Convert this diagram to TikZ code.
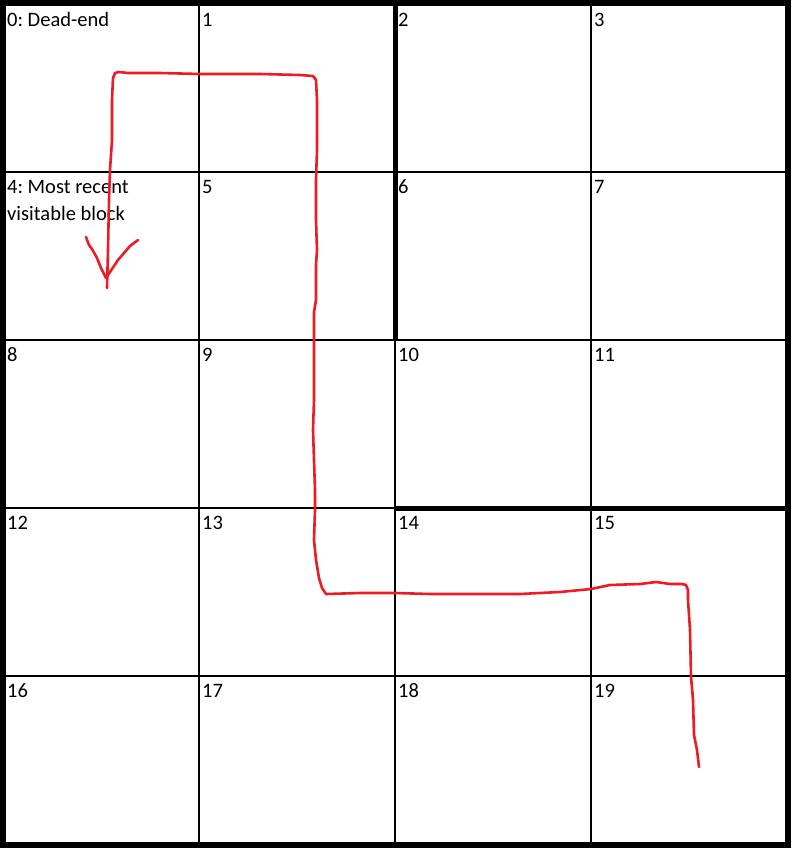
\documentclass[tikz,border=0pt]{standalone}
\usepackage{fontspec}
\setmainfont{Carlito}
\frenchspacing
\begin{document}
\begin{tikzpicture}[x=1pt,y=-1pt,
  thinline/.style={line width=1.2pt,black},
  thickline/.style={line width=5pt,black},
  border/.style={line width=6pt,black},
  celllabel/.style={anchor=base west,inner sep=0pt,font=\fontsize{20.5}{27}\selectfont},
  redpath/.style={line width=2.6pt,color={rgb,255:red,237;green,28;blue,36},line cap=round,line join=round}]
\useasboundingbox (0,0) rectangle (792,849);
\fill[white] (0,0) rectangle (792,849);
% thin grid
\foreach \x in {199,395,591} \draw[thinline] (\x,3) -- (\x,845);
\foreach \y in {172,340,508,676} \draw[thinline] (3,\y) -- (788,\y);
% thick walls
\draw[thickline] (395,3) -- (395,340);
\draw[thickline] (395,508) -- (788,508);
\draw[border] (3,3) rectangle (788,845);
% labels
\node[celllabel] (c0) at (7,26) {0: Dead-end};
\node[celllabel] (c1) at (202,26) {1};
\node[celllabel] (c2) at (398,26) {2};
\node[celllabel] (c3) at (594,26) {3};
\node[celllabel] (c4) at (7,193) {4: Most recent};
\node[celllabel] (c4b) at (7,220) {visitable block};
\node[celllabel] (c5) at (202,193) {5};
\node[celllabel] (c6) at (398,193) {6};
\node[celllabel] (c7) at (594,193) {7};
\node[celllabel] (c8) at (7,361) {8};
\node[celllabel] (c9) at (202,361) {9};
\node[celllabel] (c10) at (398,361) {10};
\node[celllabel] (c11) at (594,361) {11};
\node[celllabel] (c12) at (7,529) {12};
\node[celllabel] (c13) at (202,529) {13};
\node[celllabel] (c14) at (398,529) {14};
\node[celllabel] (c15) at (594,529) {15};
\node[celllabel] (c16) at (7,697) {16};
\node[celllabel] (c17) at (202,697) {17};
\node[celllabel] (c18) at (398,697) {18};
\node[celllabel] (c19) at (594,697) {19};
% red hand-drawn path
\coordinate (start) at (699,767);
\coordinate (tip) at (107,288);
\draw[redpath] (start) -- (697,750) -- (694,735) -- (693,700) -- (691,676) -- (690,630) -- (688,600) -- (688,590) -- (686,585) -- (682,584) -- (670,584) -- (656,582) -- (640,584) -- (610,585) -- (591,589) -- (560,592) -- (520,594) -- (430,594) -- (395,593) -- (360,593) -- (326,594) -- (322,588) -- (319,578) -- (316,560) -- (314,540) -- (315,510) -- (315,490) -- (314,460) -- (313,430) -- (314,400) -- (314,370) -- (314,340) -- (314,312) -- (316,300) -- (316,265) -- (317,250) -- (316,220) -- (316,180) -- (317,150) -- (317,100) -- (316,80) -- (313,76) -- (300,75) -- (260,74) -- (200,74) -- (160,73) -- (128,73) -- (119,72) -- (115,73) -- (113,78) -- (112,100) -- (112,140) -- (110,170) -- (109,200) -- (108,250) -- (tip);
\draw[redpath] (86,237) -- (89,245) -- (92,249) -- (97,258) -- (101,268) -- (106,278);
\draw[redpath] (138,240) -- (130,246) -- (118,260) -- (106,278);
\end{tikzpicture}
\end{document}
